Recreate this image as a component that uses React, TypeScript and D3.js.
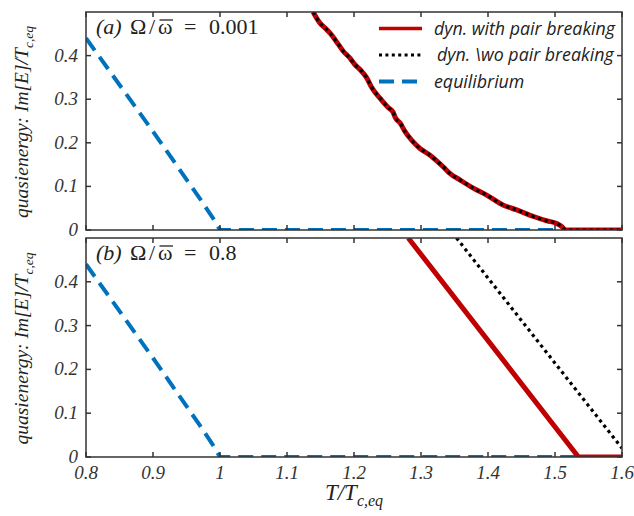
import React from 'react';
import * as d3 from 'd3';

// Temperature axis (T / T_c,eq)
const tempTicks = [0.8, 0.9, 1.0, 1.1, 1.2, 1.3, 1.4, 1.5, 1.6];
const tempTickLabels = ['0.8', '0.9', '1', '1.1', '1.2', '1.3', '1.4', '1.5', '1.6'];
// Quasienergy axis (Im[E] / T_c,eq)
const energyTicks = [0, 0.1, 0.2, 0.3, 0.4];
const energyTickLabels = ['0', '0.1', '0.2', '0.3', '0.4'];

// Equilibrium gap (same in both panels)
const eqT = [0.8, 0.9, 0.97, 0.99, 1.0, 1.6];
const eqE = [0.44, 0.226, 0.072, 0.026, 0.0, 0.0];

// Panel (a): Ω/ω̄ = 0.001, dynamics with pair breaking
const aPairT = [1.139, 1.149, 1.157, 1.164, 1.172, 1.184, 1.194, 1.2015, 1.209, 1.219, 1.226, 1.239, 1.251, 1.258, 1.262, 1.269, 1.276, 1.286, 1.2985, 1.313, 1.333, 1.343, 1.358, 1.378, 1.398, 1.423, 1.443, 1.468, 1.488, 1.5025, 1.51, 1.516, 1.6];
const aPairE = [0.5, 0.475, 0.463, 0.452, 0.436, 0.41, 0.394, 0.379, 0.368, 0.349, 0.328, 0.302, 0.281, 0.271, 0.257, 0.245, 0.226, 0.206, 0.187, 0.172, 0.145, 0.13, 0.115, 0.096, 0.08, 0.057, 0.046, 0.031, 0.021, 0.015, 0.008, 0.0, 0.0];
// Panel (a): dynamics without pair breaking
const aNoPairT = [1.139, 1.149, 1.157, 1.164, 1.172, 1.184, 1.194, 1.2015, 1.209, 1.219, 1.226, 1.239, 1.251, 1.258, 1.262, 1.269, 1.276, 1.286, 1.2985, 1.313, 1.333, 1.343, 1.358, 1.378, 1.398, 1.423, 1.443, 1.468, 1.488, 1.5025, 1.51, 1.516, 1.6];
const aNoPairE = [0.5, 0.475, 0.463, 0.452, 0.436, 0.41, 0.394, 0.379, 0.368, 0.349, 0.328, 0.302, 0.281, 0.271, 0.257, 0.245, 0.226, 0.206, 0.187, 0.172, 0.145, 0.13, 0.115, 0.096, 0.08, 0.057, 0.046, 0.031, 0.021, 0.015, 0.008, 0.0, 0.0];

// Panel (b): Ω/ω̄ = 0.8
const bPairT = [1.281, 1.535, 1.6];
const bPairE = [0.5, 0.0, 0.0];
const bNoPairT = [1.353, 1.6];
const bNoPairE = [0.5, 0.02];

const legendLabels = ['dyn. with pair breaking', 'dyn. \\wo pair breaking', 'equilibrium'];

const RED = '#c00000';
const BLUE = '#0072bd';
const AXIS = '#333333';
const SERIF = '"Liberation Serif", "DejaVu Serif", serif';
const SANS = '"Open Sans", Lato, sans-serif';

const W = 634;
const H = 516;
const left = 86;
const right = 622;

const x = d3.scaleLinear().domain([0.8, 1.6]).range([left, right]);

type Series = { t: number[]; e: number[] };

function zip(s: Series): [number, number][] {
  return s.t.map((t, i) => [t, s.e[i]]);
}

function PanelTitle(props: { top: number; tag: string; ratio: string }) {
  const { top, tag, ratio } = props;
  const base = top + 22;
  const fs = 22;
  return (
    <g fill="#222" fontFamily={SERIF} fontSize={fs}>
      <text x={96} y={base} fontStyle="italic">{tag}</text>
      <text x={130} y={base}>Ω</text>
      <text x={149} y={base}>/</text>
      <text x={158} y={base}>ω</text>
      <line x1={159.5} x2={173} y1={base - 14} y2={base - 14} stroke="#222" strokeWidth={1.3} />
      <text x={184} y={base}>=</text>
      <text x={209} y={base}>{ratio}</text>
    </g>
  );
}

function Panel(props: {
  top: number;
  bottom: number;
  id: string;
  tag: string;
  ratio: string;
  pair: Series;
  noPair: Series;
  smoothDyn: boolean;
  showX: boolean;
  showLegend: boolean;
}) {
  const { top, bottom, id, tag, ratio, pair, noPair, smoothDyn, showX, showLegend } = props;
  const y = d3.scaleLinear().domain([0, 0.5]).range([bottom, top]);
  const straight = d3
    .line<[number, number]>()
    .x((d) => x(d[0]))
    .y((d) => y(d[1]));
  const dynLine = d3
    .line<[number, number]>()
    .x((d) => x(d[0]))
    .y((d) => y(d[1]))
    .curve(smoothDyn ? d3.curveMonotoneX : d3.curveLinear);
  const eq = zip({ t: eqT, e: eqE });
  const tickLen = 5;
  const midY = (top + bottom) / 2;
  return (
    <g>
      <defs>
        <clipPath id={id}>
          <rect x={left} y={top} width={right - left} height={bottom - top} />
        </clipPath>
      </defs>
      <g clipPath={`url(#${id})`}>
        <path d={straight(eq) || ''} fill="none" stroke={BLUE} strokeWidth={4} strokeDasharray="15 8" />
        <path d={dynLine(zip(pair)) || ''} fill="none" stroke={RED} strokeWidth={5} strokeLinejoin="round" />
        <path d={dynLine(zip(noPair)) || ''} fill="none" stroke="#000" strokeWidth={3.2} strokeDasharray="3.2 3.6" />
      </g>
      <rect x={left} y={top} width={right - left} height={bottom - top} fill="none" stroke={AXIS} strokeWidth={1.5} />
      {tempTicks.map((t, i) => (
        <g key={'xt' + i}>
          <line x1={x(t)} x2={x(t)} y1={bottom} y2={bottom - tickLen} stroke={AXIS} strokeWidth={1.5} />
          <line x1={x(t)} x2={x(t)} y1={top} y2={top + tickLen} stroke={AXIS} strokeWidth={1.5} />
          {showX && (
            <text x={x(t)} y={bottom + 22} textAnchor="middle" fontFamily={SERIF} fontStyle="italic" fontSize={19} fill={AXIS}>
              {tempTickLabels[i]}
            </text>
          )}
        </g>
      ))}
      {energyTicks.map((v, i) => (
        <g key={'yt' + i}>
          <line x1={left} x2={left + tickLen} y1={y(v)} y2={y(v)} stroke={AXIS} strokeWidth={1.5} />
          <line x1={right} x2={right - tickLen} y1={y(v)} y2={y(v)} stroke={AXIS} strokeWidth={1.5} />
          <text x={left - 8} y={y(v) + 6} textAnchor="end" fontFamily={SERIF} fontStyle="italic" fontSize={19} fill={AXIS}>
            {energyTickLabels[i]}
          </text>
        </g>
      ))}
      <text
        transform={`translate(28, ${midY + 1}) rotate(-90)`}
        textAnchor="middle"
        fontFamily={SERIF}
        fontStyle="italic"
        fontSize={19.5}
        fill="#222"
      >
        quasienergy: Im[E]/T
        <tspan fontSize={13.5} dy={5}>c,eq</tspan>
      </text>
      <PanelTitle top={top} tag={tag} ratio={ratio} />
      {showLegend && (
        <g>
          {legendLabels.map((lab, i) => {
            const ly = top + 16.5 + i * 26.5;
            const stroke = i === 0 ? RED : i === 1 ? '#000' : BLUE;
            const dash = i === 0 ? undefined : i === 1 ? '3 3.4' : '15 8';
            const sw = i === 0 ? 3.5 : i === 1 ? 3 : 4;
            return (
              <g key={'lg' + i}>
                <line x1={379} x2={422} y1={ly} y2={ly} stroke={stroke} strokeWidth={sw} strokeDasharray={dash} />
                <text x={i === 1 ? 437 : 434} y={ly + 6} fontFamily={SANS} fontStyle="italic" fontSize={17.8} fill="#222">
                  {lab}
                </text>
              </g>
            );
          })}
        </g>
      )}
    </g>
  );
}

export default function App() {
  return (
    <svg
      width={W}
      height={H}
      viewBox={`0 0 ${W} ${H}`}
      style={{ position: 'absolute', left: 0, top: 0, background: '#fff' }}
    >
      <rect width={W} height={H} fill="#fff" />
      <Panel
        top={12}
        bottom={230}
        id="clipA"
        tag="(a)"
        ratio="0.001"
        pair={{ t: aPairT, e: aPairE }}
        noPair={{ t: aNoPairT, e: aNoPairE }}
        smoothDyn={true}
        showX={false}
        showLegend={true}
      />
      <Panel
        top={238}
        bottom={457}
        id="clipB"
        tag="(b)"
        ratio="0.8"
        pair={{ t: bPairT, e: bPairE }}
        noPair={{ t: bNoPairT, e: bNoPairE }}
        smoothDyn={false}
        showX={true}
        showLegend={false}
      />
      <text x={354} y={500} textAnchor="middle" fontFamily={SERIF} fontStyle="italic" fontSize={23} fill="#222">
        T/T
        <tspan fontSize={16} dy={6}>c,eq</tspan>
      </text>
    </svg>
  );
}
